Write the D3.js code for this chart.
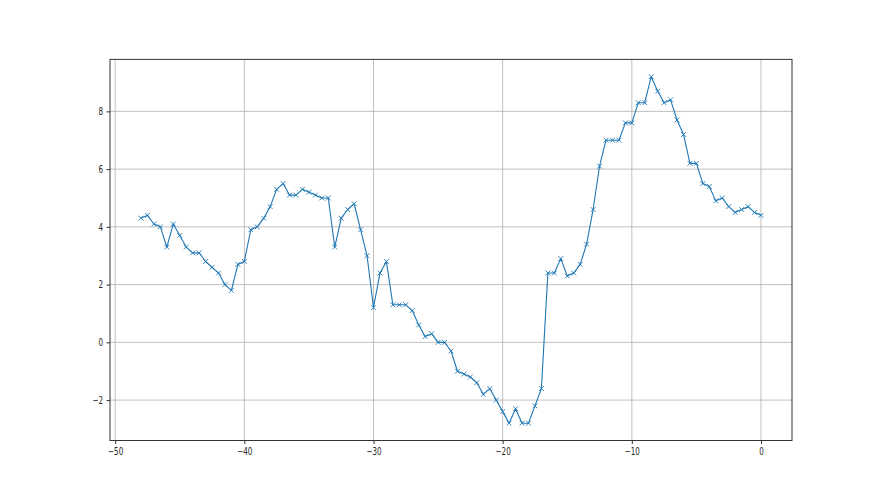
<!DOCTYPE html>
<html lang="en">

<head>
  <meta charset="UTF-8">
  <title>Line Chart</title>
  <script src="https://d3js.org/d3.v7.min.js"></script>
  <style>
    body {
      margin: 0;
      background: #fff;
    }

    .axis {
      font: 10px "DejaVu Sans", sans-serif;
    }

    .axis text {
      fill: #262626;
    }

    .axis line {
      stroke: #333;
    }

    .grid line {
      stroke: #b0b0b0;
      stroke-width: 0.8px;
    }
  </style>
</head>

<body>
  <div id="chart"></div>
  <script>
    var xValues = [-48, -47.5, -47, -46.5, -46, -45.5, -45, -44.5, -44, -43.5, -43, -42.5, -42, -41.5, -41, -40.5,
      -40, -39.5, -39, -38.5, -38, -37.5, -37, -36.5, -36, -35.5, -35, -34.5, -34, -33.5, -33, -32.5,
      -32, -31.5, -31, -30.5, -30, -29.5, -29, -28.5, -28, -27.5, -27, -26.5, -26, -25.5, -25, -24.5,
      -24, -23.5, -23, -22.5, -22, -21.5, -21, -20.5, -20, -19.5, -19, -18.5, -18, -17.5, -17, -16.5,
      -16, -15.5, -15, -14.5, -14, -13.5, -13, -12.5, -12, -11.5, -11, -10.5, -10, -9.5, -9, -8.5,
      -8, -7.5, -7, -6.5, -6, -5.5, -5, -4.5, -4, -3.5, -3, -2.5, -2, -1.5, -1, -0.5, 0];

    var yValues = [4.3, 4.4, 4.1, 4.0, 3.3, 4.1, 3.7, 3.3, 3.1, 3.1, 2.8, 2.6, 2.4, 2.0, 1.8, 2.7,
      2.8, 3.9, 4.0, 4.3, 4.7, 5.3, 5.5, 5.1, 5.1, 5.3, 5.2, 5.1, 5.0, 5.0, 3.3, 4.3,
      4.6, 4.8, 3.9, 3.0, 1.2, 2.4, 2.8, 1.3, 1.3, 1.3, 1.1, 0.6, 0.2, 0.3, 0.0, 0.0,
      -0.3, -1.0, -1.1, -1.2, -1.4, -1.8, -1.6, -2.0, -2.4, -2.8, -2.3, -2.8, -2.8, -2.2, -1.6, 2.4,
      2.4, 2.9, 2.3, 2.4, 2.7, 3.4, 4.6, 6.1, 7.0, 7.0, 7.0, 7.6, 7.6, 8.3, 8.3, 9.2,
      8.7, 8.3, 8.4, 7.7, 7.2, 6.2, 6.2, 5.5, 5.4, 4.9, 5.0, 4.7, 4.5, 4.6, 4.7, 4.5, 4.4];

    var xTicks = [-50, -40, -30, -20, -10, 0];
    var yTicks = [-2, 0, 2, 4, 6, 8];

    var data = xValues.map(function (d, i) {
      return [d, yValues[i]];
    });

    var W = 880, H = 495;
    var margin = { top: 59.4, right: 88, bottom: 54.5, left: 110 },
      width = W - margin.left - margin.right,
      height = H - margin.top - margin.bottom;

    // matplotlib style 5% padding
    var xExt = d3.extent(xValues), yExt = d3.extent(yValues);
    var xPad = (xExt[1] - xExt[0]) * 0.05, yPad = (yExt[1] - yExt[0]) * 0.05;

    var x = d3.scaleLinear().range([0, width]).domain([xExt[0] - xPad, xExt[1] + xPad]);
    var y = d3.scaleLinear().range([height, 0]).domain([yExt[0] - yPad, yExt[1] + yPad]);

    var svg = d3.select("#chart").append("svg")
      .attr("width", W)
      .attr("height", H)
      .append("g")
      .attr("transform", "translate(" + margin.left + "," + margin.top + ")");

    // grid
    svg.append("g")
      .attr("class", "grid")
      .selectAll("line.gx")
      .data(xTicks)
      .enter().append("line")
      .attr("x1", function (d) { return x(d); })
      .attr("x2", function (d) { return x(d); })
      .attr("y1", 0)
      .attr("y2", height);

    svg.append("g")
      .attr("class", "grid")
      .selectAll("line.gy")
      .data(yTicks)
      .enter().append("line")
      .attr("x1", 0)
      .attr("x2", width)
      .attr("y1", function (d) { return y(d); })
      .attr("y2", function (d) { return y(d); });

    var fmt = function (d) { return d < 0 ? "\u2212" + Math.abs(d) : d; };
    var squeeze = 0.72; // tick labels in the picture are narrow

    var xAxis = d3.axisBottom(x).tickValues(xTicks).tickSize(3.5).tickPadding(3.5).tickFormat(fmt);
    var yAxis = d3.axisLeft(y).tickValues(yTicks).tickSize(3.5).tickPadding(3.5).tickFormat(fmt);

    svg.append("g")
      .attr("class", "x axis")
      .attr("transform", "translate(0," + height + ")")
      .call(xAxis)
      .call(function (g) { g.select(".domain").remove(); })
      .selectAll("text")
      .attr("transform", "scale(" + squeeze + ",1)");

    svg.append("g")
      .attr("class", "y axis")
      .call(yAxis)
      .call(function (g) { g.select(".domain").remove(); })
      .selectAll("text")
      .attr("x", -7 / squeeze)
      .attr("transform", "scale(" + squeeze + ",1)");

    // the line
    var line = d3.line()
      .x(function (d) { return x(d[0]); })
      .y(function (d) { return y(d[1]); });

    svg.append("path")
      .datum(data)
      .attr("fill", "none")
      .attr("stroke", "#1f77b4")
      .attr("stroke-width", 1.1)
      .attr("stroke-linejoin", "round")
      .attr("d", line);

    // x markers
    var m = 2.4;
    svg.append("g")
      .selectAll("path")
      .data(data)
      .enter().append("path")
      .attr("fill", "none")
      .attr("stroke", "#1f77b4")
      .attr("stroke-width", 0.9)
      .attr("d", function (d) {
        var cx = x(d[0]), cy = y(d[1]);
        return "M" + (cx - m) + "," + (cy - m) + "L" + (cx + m) + "," + (cy + m) +
          "M" + (cx - m) + "," + (cy + m) + "L" + (cx + m) + "," + (cy - m);
      });

    // frame
    svg.append("rect")
      .attr("x", 0)
      .attr("y", 0)
      .attr("width", width)
      .attr("height", height)
      .attr("fill", "none")
      .attr("stroke", "#333")
      .attr("stroke-width", 1);
  </script>
</body>

</html>
